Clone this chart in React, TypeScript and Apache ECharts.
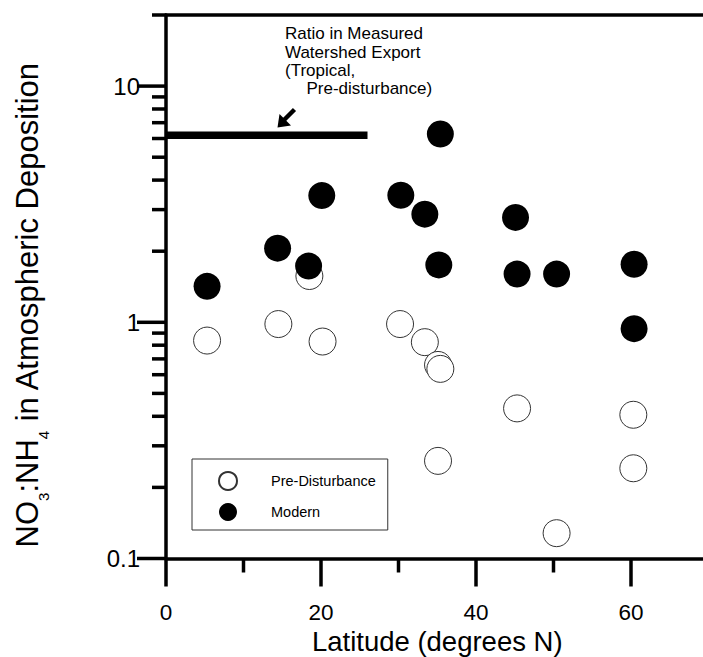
import React, { useEffect, useRef } from 'react';
import * as echarts from 'echarts';

// Pre-disturbance (open circles)
const preLatitude = [5.3, 14.5, 18.5, 20.2, 30.2, 33.4, 35.1, 35.4, 35.1, 45.3, 50.4, 60.3, 60.3];
const preRatio = [0.837, 0.983, 1.57, 0.829, 0.983, 0.824, 0.66, 0.635, 0.259, 0.432, 0.128, 0.406, 0.241];

// Modern (filled circles)
const modernLatitude = [5.3, 14.4, 18.4, 20.1, 30.3, 33.4, 35.4, 35.2, 45.1, 45.3, 50.4, 60.4, 60.4];
const modernRatio = [1.42, 2.06, 1.73, 3.44, 3.45, 2.87, 6.27, 1.75, 2.78, 1.6, 1.6, 1.76, 0.94];

// Measured watershed export ratio (tropical, pre-disturbance)
const watershedLatitudeRange = [0, 26];
const watershedRatio = 6.2;

// Axis ranges and ticks
const xRange = [0, 70];
const yRange = [0.1, 20];
const xMajorTicks = [0, 20, 40, 60];
const xMinorTicks = [10, 30, 50];
const yMajorTicks = [0.1, 1, 10];
const yMinorTicks = [0.2, 0.3, 0.4, 0.5, 0.6, 0.7, 0.8, 0.9, 2, 3, 4, 5, 6, 7, 8, 9, 20];

const FONT = '"Liberation Sans", Arial, Helvetica, sans-serif';

export default function App() {
  const ref = useRef<HTMLDivElement>(null);

  useEffect(() => {
    if (!ref.current) return;
    const chart = echarts.init(ref.current, undefined, { renderer: 'svg' });

    const tickData: number[][] = [];
    yMinorTicks.forEach((v) => tickData.push([xRange[0], v, 0]));
    yMajorTicks.forEach((v) => tickData.push([xRange[0], v, 1]));
    xMinorTicks.forEach((v) => tickData.push([v, yRange[0], 2]));
    xMajorTicks.forEach((v) => tickData.push([v, yRange[0], 3]));

    const isDecade = (v: number) => {
      const l = Math.log10(v);
      return Math.abs(l - Math.round(l)) < 1e-6;
    };

    const option: any = {
      animation: false,
      backgroundColor: '#fff',
      textStyle: { fontFamily: FONT },
      grid: {
        left: 166,
        top: 15,
        right: -5.5,
        bottom: 98.5,
        containLabel: false,
        outerBoundsMode: 'none',
      },
      legend: {
        left: 192,
        top: 459,
        orient: 'vertical',
        data: ['Pre-Disturbance', 'Modern'],
        icon: 'circle',
        itemWidth: 18,
        itemHeight: 18,
        itemGap: 12,
        padding: [12, 12, 9, 26],
        borderColor: '#333',
        borderWidth: 1,
        borderRadius: 0,
        textStyle: { fontSize: 14.5, color: '#000', fontFamily: FONT, padding: [0, 0, 0, 29] },
      },
      xAxis: [
        {
          type: 'value',
          min: xRange[0],
          max: xRange[1],
          interval: 20,
          name: 'Latitude (degrees N)',
          nameLocation: 'middle',
          nameGap: 68.5,
          nameMoveOverlap: false,
          nameTextStyle: { fontSize: 27.5, lineHeight: 28, color: '#000', fontFamily: FONT },
          axisLine: { show: true, lineStyle: { color: '#000', width: 3.5 } },
          axisTick: { show: false },
          splitLine: { show: false },
          axisLabel: {
            margin: 44,
            fontSize: 22.5,
            lineHeight: 20,
            color: '#000',
            fontFamily: FONT,
            showMaxLabel: false,
            formatter: (v: number) => (v % 20 === 0 ? String(v) : ''),
          },
        },
        {
          type: 'value',
          position: 'top',
          min: xRange[0],
          max: xRange[1],
          axisLine: { show: true, lineStyle: { color: '#000', width: 3.5 } },
          axisTick: { show: false },
          axisLabel: { show: false },
          splitLine: { show: false },
        },
      ],
      yAxis: {
        type: 'log',
        logBase: 10,
        min: yRange[0],
        max: yRange[1],
        name: '{a|NO}{s|3}{a|:NH}{s|4}{a| in Atmospheric Deposition}',
        nameLocation: 'middle',
        nameRotate: 90,
        nameGap: 124,
        nameMoveOverlap: false,
        nameTextStyle: {
          color: '#000',
          fontFamily: FONT,
          padding: [0, 36, 0, 0],
          rich: {
            a: { fontSize: 31, lineHeight: 30, verticalAlign: 'top', fontFamily: FONT, color: '#000' },
            s: { fontSize: 15, lineHeight: 15, verticalAlign: 'top', padding: [24, 0, 0, 0], fontFamily: FONT, color: '#000' },
          },
        },
        axisLine: { show: true, lineStyle: { color: '#000', width: 3.5 } },
        axisTick: { show: false },
        minorTick: { show: false },
        splitLine: { show: false },
        axisLabel: {
          margin: 26,
          fontSize: 24,
          color: '#000',
          fontFamily: FONT,
          formatter: (v: number) => (isDecade(v) ? String(parseFloat(v.toPrecision(6))) : ''),
        },
      },
      graphic: [
        {
          type: 'group',
          silent: true,
          children: [
            { type: 'text', style: { text: 'Ratio in Measured', x: 285, y: 33.5, verticalAlign: 'middle', font: `17px ${FONT}`, fill: '#000' } },
            { type: 'text', style: { text: 'Watershed Export', x: 285, y: 52, verticalAlign: 'middle', font: `17px ${FONT}`, fill: '#000' } },
            { type: 'text', style: { text: '(Tropical,', x: 285, y: 70, verticalAlign: 'middle', font: `17px ${FONT}`, fill: '#000' } },
            { type: 'text', style: { text: 'Pre-disturbance)', x: 306.5, y: 88.5, verticalAlign: 'middle', font: `17px ${FONT}`, fill: '#000' } },
            { type: 'line', shape: { x1: 294.5, y1: 109.5, x2: 284, y2: 120 }, style: { stroke: '#000', lineWidth: 4.5 } },
            { type: 'polygon', shape: { points: [[277.5, 127.5], [279.5, 114], [291, 125.5]] }, style: { fill: '#000' } },
          ],
        },
      ],
      series: [
        {
          name: 'axis ticks',
          type: 'custom',
          silent: true,
          clip: false,
          xAxisIndex: 0,
          yAxisIndex: 0,
          data: tickData,
          renderItem: (_params: any, api: any) => {
            const p = api.coord([api.value(0), api.value(1)]);
            const k = api.value(2);
            const len = k === 1 ? 29 : k === 3 ? 28 : 14;
            const vertical = k >= 2;
            return {
              type: 'line',
              shape: vertical
                ? { x1: p[0], y1: p[1], x2: p[0], y2: p[1] + len }
                : { x1: p[0], y1: p[1], x2: p[0] - len, y2: p[1] },
              style: { stroke: '#000', lineWidth: 3.5 },
            };
          },
        },
        {
          name: 'Watershed export ratio',
          type: 'line',
          xAxisIndex: 0,
          yAxisIndex: 0,
          data: watershedLatitudeRange.map((x) => [x, watershedRatio]),
          symbol: 'none',
          silent: true,
          lineStyle: { color: '#000', width: 7.5 },
        },
        {
          name: 'Pre-Disturbance',
          type: 'scatter',
          xAxisIndex: 0,
          yAxisIndex: 0,
          symbol: 'circle',
          symbolSize: 27,
          data: preLatitude.map((x, i) => [x, preRatio[i]]),
          itemStyle: { color: '#fff', borderColor: '#333', borderWidth: 1, opacity: 1 },
        },
        {
          name: 'Modern',
          type: 'scatter',
          xAxisIndex: 0,
          yAxisIndex: 0,
          symbol: 'circle',
          symbolSize: 27,
          data: modernLatitude.map((x, i) => [x, modernRatio[i]]),
          itemStyle: { color: '#000', opacity: 1 },
        },
      ],
    };

    chart.setOption(option);
    return () => chart.dispose();
  }, []);

  return (
    <div
      ref={ref}
      style={{ position: 'absolute', left: 0, top: 0, width: 703, height: 657, background: '#fff' }}
    />
  );
}
